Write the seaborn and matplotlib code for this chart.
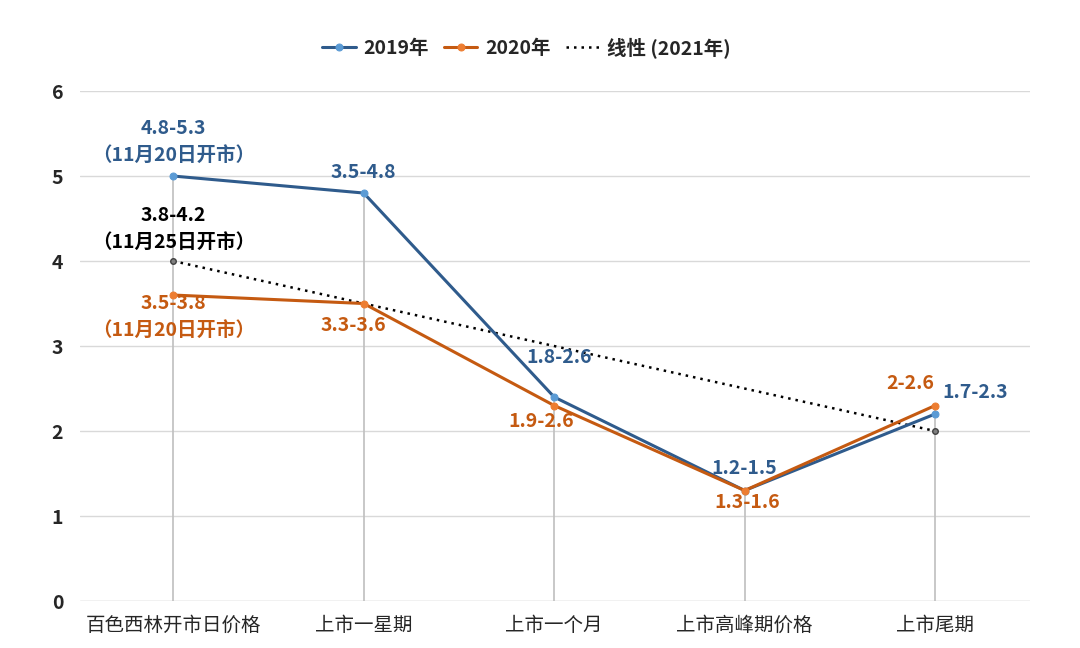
import numpy as np
import pandas as pd
import seaborn as sns
import matplotlib.pyplot as plt

# =========================================
# DATA
# =========================================

stages = ['百色西林开市日价格', '上市一星期', '上市一个月', '上市高峰期价格', '上市尾期']

price_2019 = [5.0, 4.8, 2.4, 1.3, 2.2]
price_2020 = [3.6, 3.5, 2.3, 1.3, 2.3]
trend_2021 = [4.0, 3.5, 3.0, 2.5, 2.0]

labels_2019 = ['4.8-5.3\n（11月20日开市）', '3.5-4.8', '1.8-2.6', '1.2-1.5', '1.7-2.3']
labels_2020 = ['3.5-3.8\n（11月20日开市）', '3.3-3.6', '1.9-2.6', '1.3-1.6', '2-2.6']
labels_2021 = ['3.8-4.2\n（11月25日开市）']

# =========================================
# STYLE
# =========================================

sns.set_style("white")
plt.rcParams['font.family'] = ['Noto Sans CJK SC', 'DejaVu Sans']

blue_line = '#2f5b8c'
blue_dot = '#5b9bd5'
orange_line = '#c55a11'
orange_dot = '#ed7d31'

x = np.arange(len(stages))
df = pd.DataFrame({'x': x, '2019年': price_2019, '2020年': price_2020, 'trend': trend_2021})

fig = plt.figure(figsize=(10.8, 6.48), dpi=100)
ax = fig.add_axes([0.074, 0.0725, 0.88, 0.787])

# drop lines
top = df[['2019年', '2020年']].max(axis=1)
ax.vlines(x, 0, top, color='#bfbfbf', linewidth=1.2, zorder=1)

sns.lineplot(data=df, x='x', y='2019年', ax=ax, color=blue_line, linewidth=2.2,
             marker='o', markersize=5, markerfacecolor=blue_dot, markeredgecolor=blue_dot,
             label='2019年', zorder=3)
sns.lineplot(data=df, x='x', y='2020年', ax=ax, color=orange_line, linewidth=2.2,
             marker='o', markersize=5, markerfacecolor=orange_dot, markeredgecolor=orange_dot,
             label='2020年', zorder=3)
ax.plot(x, trend_2021, color='black', linestyle=(0, (1, 2)), linewidth=1.8,
        label='线性 (2021年)', zorder=2)
ax.plot(x[[0, 4]], np.array(trend_2021)[[0, 4]], linestyle='none', marker='o', markersize=4,
        markerfacecolor='#7f7f7f', markeredgecolor='#404040', zorder=2)

# =========================================
# LABELS
# =========================================

off_2019 = [(0, 34), (0, 21), (5, 40), (0, 22), (40, 22)]
off_2020 = [(0, -22), (-10, -22), (-13, -16), (3, -12), (-25, 22)]

for i, txt in enumerate(labels_2019):
    ax.annotate(txt, (x[i], price_2019[i]), xytext=off_2019[i], textcoords='offset pixels',
                ha='center', va='center', color=blue_line, fontsize=14, fontweight='bold',
                linespacing=1.5)
for i, txt in enumerate(labels_2020):
    ax.annotate(txt, (x[i], price_2020[i]), xytext=off_2020[i], textcoords='offset pixels',
                ha='center', va='center', color=orange_line,
                fontsize=14, fontweight='bold', linespacing=1.5)
ax.annotate(labels_2021[0], (x[0], trend_2021[0]), xytext=(0, 32), textcoords='offset pixels',
            ha='center', va='center', color='black', fontsize=14, fontweight='bold',
            linespacing=1.5)

# =========================================
# AXES
# =========================================

ax.set_xlim(-0.49, 4.5)
ax.set_ylim(0, 6)
ax.set_yticks(range(0, 7))
ax.set_xticks(x)
ax.set_xticklabels(stages, fontsize=14)
for t in ax.get_yticklabels():
    t.set_fontweight('bold')
    t.set_fontsize(14)
ax.tick_params(axis='x', length=0, pad=10)
ax.tick_params(axis='y', length=0, pad=12)
ax.yaxis.grid(True, color='#d9d9d9', linewidth=1)
ax.set_axisbelow(True)
ax.set_xlabel('')
ax.set_ylabel('')
sns.despine(ax=ax, left=True, bottom=True, top=True, right=True)
ax.axhline(0, color='#d9d9d9', linewidth=1, zorder=0)

leg = ax.legend(loc='upper center', bbox_to_anchor=(0.47, 1.14), ncol=3, frameon=False,
                handlelength=1.7, handletextpad=0.4, columnspacing=0.8,
                prop={'weight': 'bold', 'size': 14})

fig.savefig('out.png', dpi=100)
